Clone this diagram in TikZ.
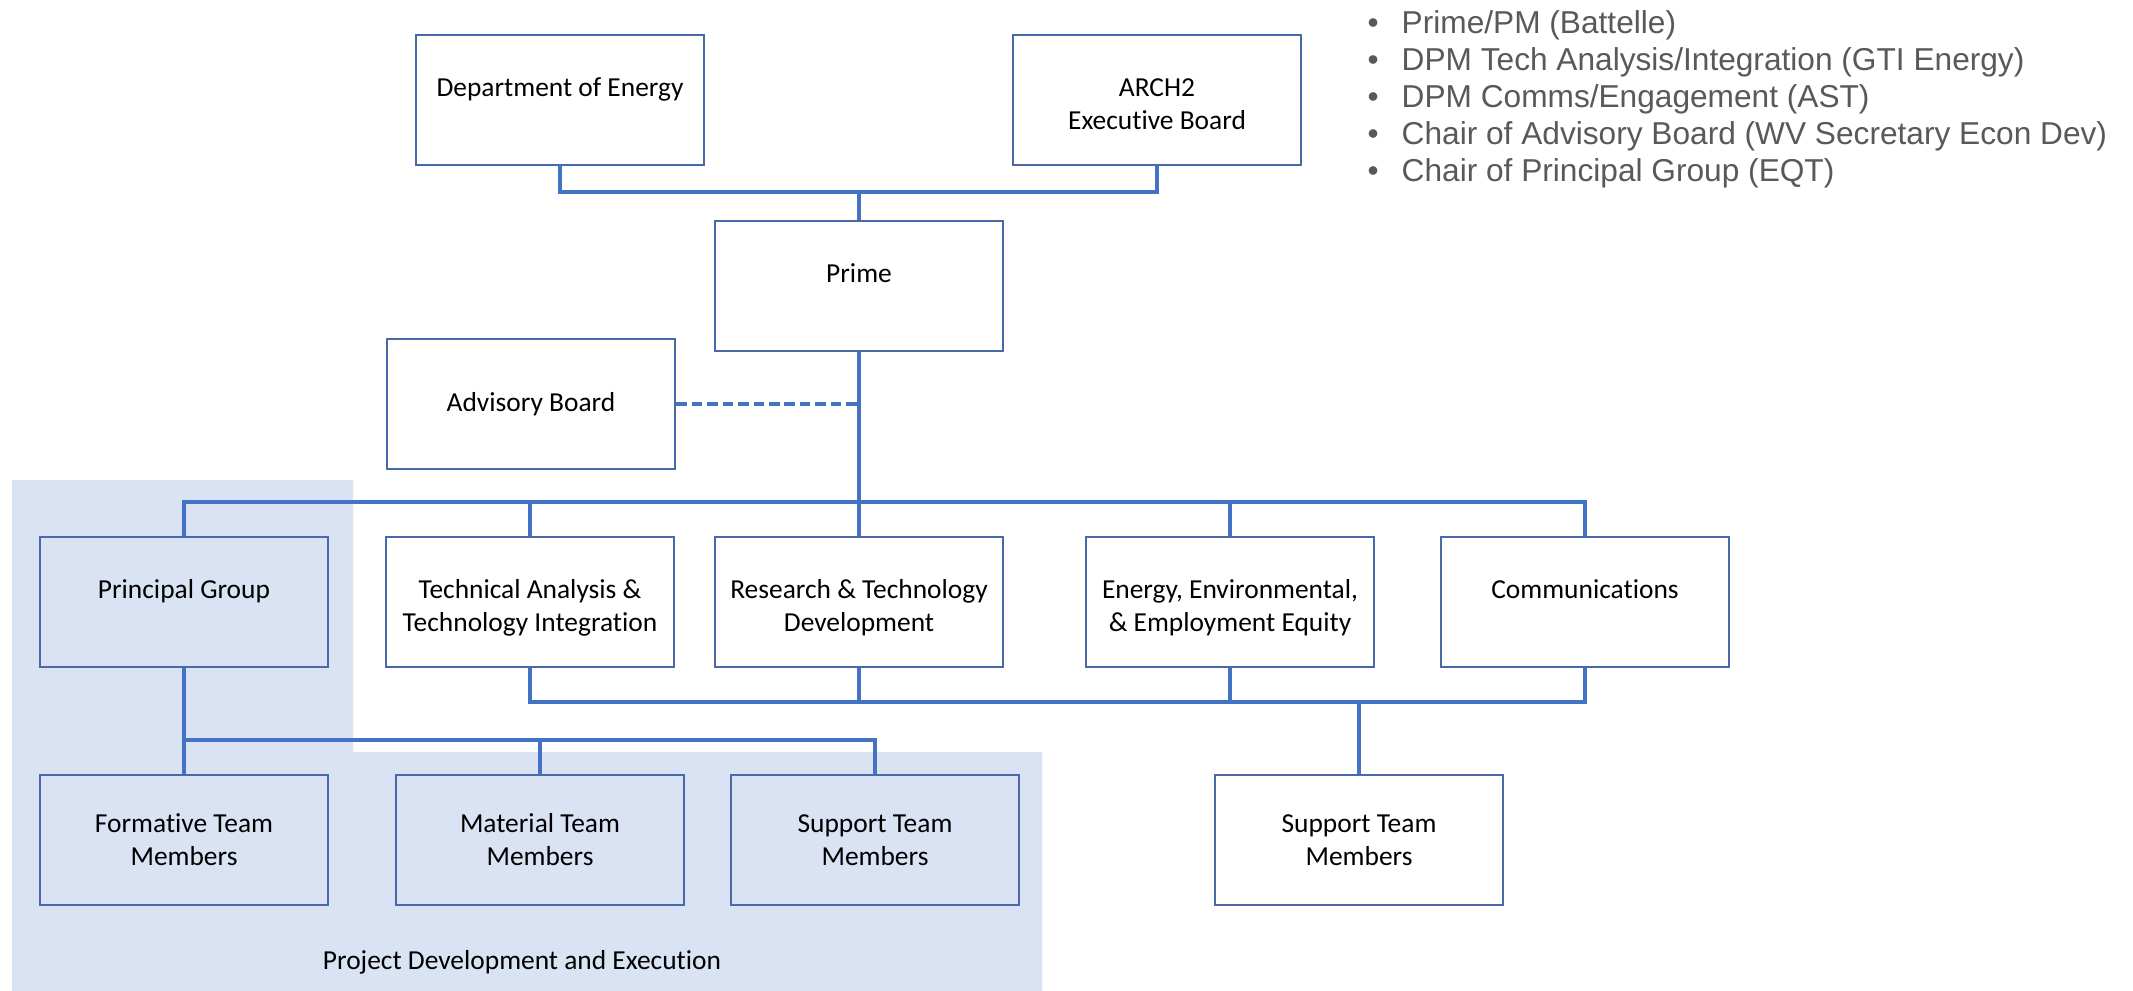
\documentclass[tikz,border=0pt]{standalone}
\usepackage{fontspec}
\setmainfont{Carlito}[Ligatures=CommonOff]
\newfontfamily\listfont{Liberation Sans}
\definecolor{linkblue}{HTML}{4472C4}
\definecolor{boxblue}{HTML}{4A69A8}
\definecolor{pdeshade}{HTML}{DAE3F3}
\definecolor{listgray}{HTML}{595959}
\newcommand{\toplines}[1]{\begin{tabular}[t]{@{}c@{}}#1\end{tabular}}
\begin{document}
\begin{tikzpicture}[x=0.01cm,y=-0.01cm,
    orgbox/.style={draw=boxblue,line width=0.6pt,minimum width=2.88cm,minimum height=1.3cm,inner sep=0pt,align=center,font=\fontsize{7.8}{9.4}\selectfont},
    topbox/.style={orgbox,text height=0.3cm,text depth=0.37cm},
    link/.style={linkblue,line width=0.95pt},
    listline/.style={anchor=base west,inner sep=0pt,text=listgray,font=\listfont\fontsize{9}{10.8}\selectfont}]
    \useasboundingbox (0,0) rectangle (2133,991);
    \fill[pdeshade] (12,480) -- (353,480) -- (353,752) -- (1042,752) -- (1042,991) -- (12,991) -- cycle;
    \node[topbox] (doe) at (560,100) {\toplines{Department of Energy}};
    \node[topbox] (arch) at (1157,100) {\toplines{ARCH2\\Executive Board}};
    \node[topbox] (prime) at (859,286) {\toplines{Prime}};
    \node[orgbox] (adv) at (531,404) {Advisory Board};
    \node[topbox] (pg) at (184,602) {\toplines{Principal Group}};
    \node[topbox] (ta) at (530,602) {\toplines{Technical Analysis \&\\Technology Integration}};
    \node[topbox] (rt) at (859,602) {\toplines{Research \& Technology\\Development}};
    \node[topbox] (ee) at (1230,602) {\toplines{Energy, Environmental,\\\& Employment Equity}};
    \node[topbox] (comms) at (1585,602) {\toplines{Communications}};
    \node[orgbox] (ftm) at (184,840) {Formative Team\\Members};
    \node[orgbox] (mtm) at (540,840) {Material Team\\Members};
    \node[orgbox] (stl) at (875,840) {Support Team\\Members};
    \node[orgbox] (str) at (1359,840) {Support Team\\Members};
    \node[font=\fontsize{7.8}{9.4}\selectfont] (pde) at (522,962) {Project Development and Execution};
    \coordinate (hubtop) at (859,192);
    \coordinate (hubmid) at (859,502);
    \coordinate (hublow) at (1359,702);
    \coordinate (hubteam) at (184,740);
    \draw[link] (doe.south) |- (hubtop) -| (arch.south);
    \draw[link] (prime.north) -- (hubtop);
    \draw[link] (prime.south) -- (hubmid);
    \draw[link,dash pattern=on 3pt off 1.4pt] (adv.east) -- (adv.east -| hubmid);
    \draw[link] (pg.north) |- (hubmid) -| (comms.north);
    \draw[link] (ta.north) -- (ta.north |- hubmid);
    \draw[link] (rt.north) -- (hubmid);
    \draw[link] (ee.north) -- (ee.north |- hubmid);
    \draw[link] (ta.south) |- (hublow) -| (comms.south);
    \draw[link] (rt.south) -- (rt.south |- hublow);
    \draw[link] (ee.south) -- (ee.south |- hublow);
    \draw[link] (hublow) -- (str.north);
    \draw[link] (pg.south) -- (ftm.north);
    \draw[link] (hubteam) -| (stl.north);
    \draw[link] (mtm.north) -- (mtm.north |- hubteam);
    \foreach \t [count=\i] in {{Prime/PM (Battelle)},{DPM Tech Analysis/Integration (GTI Energy)},{DPM Comms/Engagement (AST)},{Chair of Advisory Board (WV Secretary Econ Dev)},{Chair of Principal Group (EQT)}}
    \node[listline] (item\i) at (1367,{37*\i-3}) {\makebox[0.34cm][l]{•}\t};
  \end{tikzpicture}
\end{document}
